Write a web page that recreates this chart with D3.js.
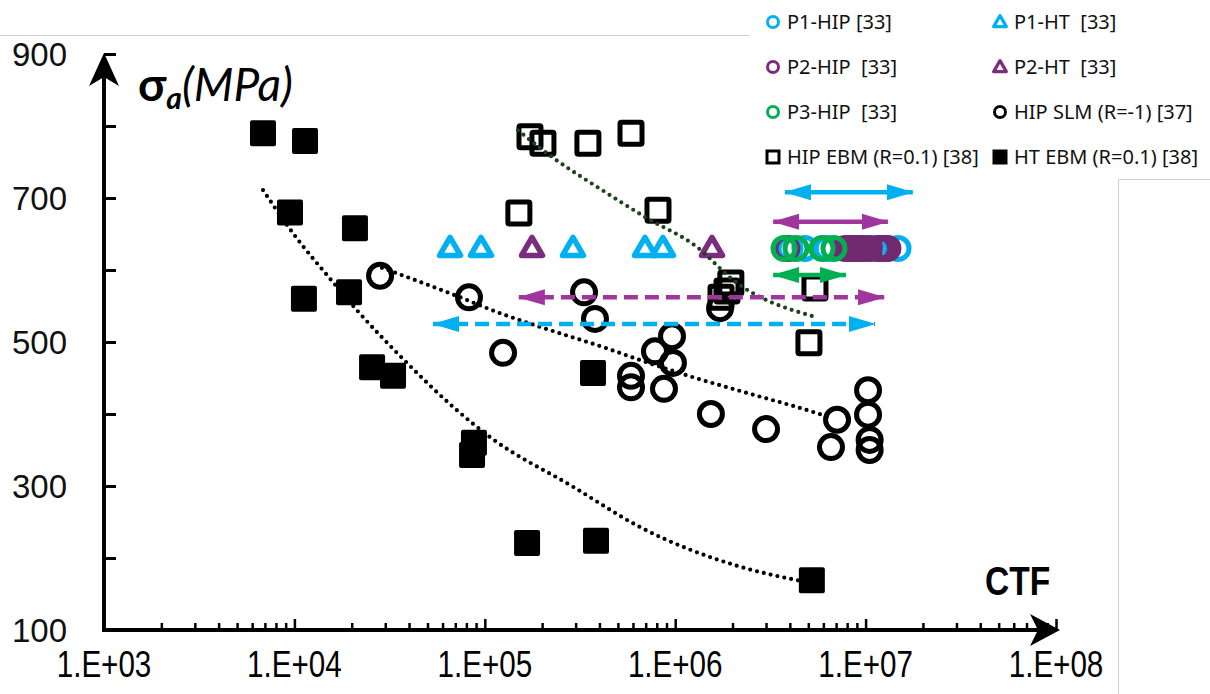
<!DOCTYPE html>
<html>
<head>
<meta charset="utf-8">
<script src="https://cdn.jsdelivr.net/npm/d3@7"></script>
<style>
body { margin: 0; background: #fff; }
svg { display: block; }
</style>
</head>
<body>
<div id="chart"></div>
<script>
// valori: CTF (cicli) e ampiezza di tensione (MPa)
var htEbmX = [6840, 11370, 9480, 20800, 11220, 19360, 25580, 32960, 87700, 85700, 370000, 166700, 383700, 5220000];
var htEbmY = [790, 779, 680, 658, 560, 569, 465, 453, 360, 343, 457, 221, 224, 169];

var hipEbmX = [172700, 202000, 348000, 586000, 151000, 812000, 1960000, 1870000, 1740000, 5420000, 5040000];
var hipEbmY = [785, 776, 776, 790, 679, 683, 582, 571, 562, 575, 499];

var hipSlmX = [28180, 82600, 332000, 379000, 124700, 962000, 783000, 973000, 586000, 586000, 873000, 1540000, 1720000, 3000000, 7080000, 6580000, 10300000, 10300000, 10500000, 10500000];
var hipSlmY = [592, 562, 569, 532, 485, 508, 487, 471, 453, 437, 435, 400, 547, 379, 392, 354, 433, 399, 364, 350];

var p1HtX = [65700, 95500, 290500, 694000, 862000];
var p2HtX = [177000, 1560000];
var p1HipX = [4010000, 4800000, 6270000, 11200000, 14800000];
var p2HipX = [3860000, 7800000, 8200000, 8490000, 8800000, 9120000, 9500000, 9810000, 10500000, 11700000, 12200000, 12700000, 13100000];
var p3HipX = [3730000, 4310000, 5910000, 6820000];
var pStress = 630;

// linee di tendenza
var trendHt = [[6840, 711], [9840, 651], [15960, 583], [21330, 544], [37670, 475], [68080, 410], [106400, 368], [290400, 299], [653100, 243], [2188000, 188], [4808000, 167]];
var trendSlm = [[28840, 603], [69660, 565], [120200, 540], [195000, 521], [427600, 492], [653100, 475], [1242000, 451], [2188000, 432], [5559000, 401], [6668000, 394]];
var trendEbm = [[149300, 794], [225400, 757], [413000, 711], [711200, 672], [1300000, 632], [2014000, 586], [5420000, 535]];

// frecce (intervalli di CTF)
var rangeNames = ["P1 solid", "P2 solid", "P3 solid", "P2 dashed", "P1 dashed"];
var rangeY = [708, 667, 593, 562, 525];
var rangeX0 = [3770000, 3270000, 3270000, 151000, 53500];
var rangeX1 = [17700000, 13100000, 7890000, 12500000, 11200000];

var xMajor = [1e3, 1e4, 1e5, 1e6, 1e7, 1e8];
var yTicks = [100, 200, 300, 400, 500, 600, 700, 800, 900];
var yLabels = [100, 300, 500, 700, 900];

var legendNames = ["P1-HIP [33]", "P1-HT  [33]", "P2-HIP  [33]", "P2-HT  [33]", "P3-HIP  [33]", "HIP SLM (R=-1) [37]", "HIP EBM (R=0.1) [38]", "HT EBM (R=0.1) [38]"];

var width = 1210, height = 694;
var blue = "#00b0f0", purpleTri = "#7b2c7d", purpleDot = "#712a70", purpleArrow = "#a0369d", green = "#00b050", darkGreen = "#1d421d";

var x = d3.scaleLog().domain([1e3, 1e8]).range([104, 1056]);
var y = d3.scaleLinear().domain([100, 900]).range([630, 54]);

var svg = d3.select("#chart").append("svg")
    .attr("width", width)
    .attr("height", height);

// bordi grigi dell'immagine
svg.append("path")
    .attr("d", "M0,35.5H750 M1118.5,179.5V694 M1118.5,179.5H1210")
    .attr("stroke", "#d0d0d0")
    .attr("fill", "none");

var defs = svg.append("defs");
function arrowMarker(id, color) {
    defs.append("marker")
        .attr("id", id)
        .attr("markerUnits", "userSpaceOnUse")
        .attr("viewBox", "0 0 27 17")
        .attr("markerWidth", 27)
        .attr("markerHeight", 17)
        .attr("refX", 26)
        .attr("refY", 8.5)
        .attr("orient", "auto-start-reverse")
        .append("path")
        .attr("d", "M0,0.5L27,8.5L0,16.5Z")
        .attr("fill", color);
}
arrowMarker("ab", blue);
arrowMarker("ap", purpleArrow);
arrowMarker("ag", green);

// assi
var axes = svg.append("g");

var minor = [];
xMajor.slice(0, -1).forEach(function(d) {
    for (var k = 2; k <= 9; k++) minor.push(d * k);
});

axes.append("g")
    .attr("transform", "translate(0,630)")
    .call(d3.axisBottom(x).tickValues(minor).tickSize(-7).tickFormat(""))
    .call(function(g) { g.select(".domain").remove(); })
    .selectAll("line").attr("stroke-width", 2.5);

axes.append("g")
    .attr("transform", "translate(0,630)")
    .call(d3.axisBottom(x).tickValues(xMajor).tickSize(-11).tickFormat(""))
    .call(function(g) { g.select(".domain").remove(); })
    .selectAll("line").attr("stroke-width", 2.5);

axes.append("g")
    .attr("transform", "translate(104,0)")
    .call(d3.axisLeft(y).tickValues(yTicks).tickSize(-12).tickFormat(""))
    .call(function(g) { g.select(".domain").remove(); })
    .selectAll("line").attr("stroke-width", 3);

axes.append("line")
    .attr("x1", 104).attr("x2", 1040)
    .attr("y1", 630).attr("y2", 630)
    .attr("stroke", "#000").attr("stroke-width", 4);
axes.append("line")
    .attr("x1", 104).attr("x2", 104)
    .attr("y1", 632).attr("y2", 70)
    .attr("stroke", "#000").attr("stroke-width", 4);
axes.append("path")
    .attr("d", "M1060,630L1030,614L1038,630L1030,646Z");
axes.append("path")
    .attr("d", "M104,53L89,86L104,77L119,86Z");

// etichette
axes.selectAll(".xl")
    .data(xMajor)
    .enter().append("text")
    .attr("class", "xl")
    .attr("transform", function(d) { return "translate(" + x(d) + ",677) scale(0.8,1)"; })
    .attr("text-anchor", "middle")
    .style("font-family", "Liberation Sans, Arial, sans-serif")
    .style("font-size", "37px")
    .text(function(d) { return "1.E+" + d3.format("02d")(Math.round(Math.log10(d))); });

axes.selectAll(".yl")
    .data(yLabels)
    .enter().append("text")
    .attr("class", "yl")
    .attr("x", 67)
    .attr("y", function(d) { return y(d); })
    .attr("dy", ".36em")
    .attr("text-anchor", "end")
    .style("font-family", "Liberation Sans, Arial, sans-serif")
    .style("font-size", "33px")
    .style("fill", "#111")
    .text(function(d) { return d; });

axes.append("text")
    .attr("transform", "translate(985,595) scale(0.84,1)")
    .style("font-family", "Liberation Sans, Arial, sans-serif")
    .style("font-weight", "bold")
    .style("font-size", "40px")
    .text("CTF");

var title = axes.append("text")
    .attr("x", 138)
    .attr("y", 101)
    .style("font-family", "Lato, 'Open Sans', sans-serif")
    .style("font-size", "46px");
title.append("tspan").style("font-weight", "bold").text("σ");
title.append("tspan").attr("dy", 8).style("font-weight", "bold").style("font-style", "italic").style("font-size", "30px").text("a");
title.append("tspan").attr("dy", -8).style("font-style", "italic").text("(MPa)");

// serie
var plot = svg.append("g");

function circles(xs, ys, color, r) {
    plot.append("g").selectAll("circle")
        .data(xs)
        .enter().append("circle")
        .attr("cx", function(d) { return x(d); })
        .attr("cy", function(d, i) { return y(ys ? ys[i] : pStress); })
        .attr("r", r)
        .attr("fill", "none")
        .attr("stroke", color)
        .attr("stroke-width", 5);
}

function triangles(xs, color) {
    plot.append("g").selectAll("path")
        .data(xs)
        .enter().append("path")
        .attr("transform", function(d) { return "translate(" + x(d) + "," + (y(pStress) + 1) + ")"; })
        .attr("d", d3.symbol().type(d3.symbolTriangle).size(190))
        .attr("fill", "none")
        .attr("stroke", color)
        .attr("stroke-width", 5.5)
        .attr("stroke-linejoin", "round");
}

circles(p1HipX, null, blue, 11);
triangles(p1HtX, blue);
circles(p2HipX, null, purpleDot, 11);
triangles(p2HtX, purpleTri);
circles(p3HipX, null, green, 11);
circles(hipSlmX, hipSlmY, "#000", 11.5);

plot.append("g").selectAll("rect")
    .data(hipEbmX)
    .enter().append("rect")
    .attr("x", function(d) { return x(d) - 11; })
    .attr("y", function(d, i) { return y(hipEbmY[i]) - 11; })
    .attr("width", 22).attr("height", 22)
    .attr("rx", 1.5)
    .attr("fill", "none")
    .attr("stroke", "#000")
    .attr("stroke-width", 5);

plot.append("g").selectAll("rect")
    .data(htEbmX)
    .enter().append("rect")
    .attr("x", function(d) { return x(d) - 13; })
    .attr("y", function(d, i) { return y(htEbmY[i]) - 13; })
    .attr("width", 26).attr("height", 26)
    .attr("rx", 2)
    .attr("fill", "#000");

// tendenze puntinate
var line = d3.line()
    .x(function(d) { return x(d[0]); })
    .y(function(d) { return y(d[1]); })
    .curve(d3.curveMonotoneX);

[[trendHt, "#000"], [trendSlm, "#000"], [trendEbm, darkGreen]].forEach(function(t) {
    plot.append("path")
        .attr("d", line(t[0]))
        .attr("fill", "none")
        .attr("stroke", t[1])
        .attr("stroke-width", 4.2)
        .attr("stroke-linecap", "round")
        .attr("stroke-dasharray", "0 7");
});

// frecce
var rangeColor = { "P1": [blue, "ab"], "P2": [purpleArrow, "ap"], "P3": [green, "ag"] };
rangeNames.forEach(function(n, i) {
    var c = rangeColor[n.split(" ")[0]];
    plot.append("line")
        .attr("x1", x(rangeX0[i])).attr("x2", x(rangeX1[i]))
        .attr("y1", y(rangeY[i])).attr("y2", y(rangeY[i]))
        .attr("stroke", c[0])
        .attr("stroke-width", 4.5)
        .attr("stroke-dasharray", n.indexOf("dashed") > -1 ? "14 7" : null)
        .attr("marker-start", "url(#" + c[1] + ")")
        .attr("marker-end", "url(#" + c[1] + ")");
});

// legenda
var legend = svg.append("g");
legend.append("rect")
    .attr("x", 750).attr("y", 0)
    .attr("width", 460).attr("height", 179)
    .attr("fill", "#fff");

var legendKinds = ["circle", "tri", "circle", "tri", "circle", "circle", "square", "filled"];
var legendColors = [blue, blue, purpleTri, purpleTri, green, "#000", "#000", "#000"];

var item = legend.selectAll(".item")
    .data(legendNames)
    .enter().append("g")
    .attr("class", "item")
    .attr("transform", function(d, i) {
        return "translate(" + (i % 2 ? 1000 : 773) + "," + (22 + Math.floor(i / 2) * 45) + ")";
    });

item.each(function(d, i) {
    var g = d3.select(this), k = legendKinds[i], c = legendColors[i];
    if (k == "circle") {
        g.append("circle").attr("r", 5.5).attr("fill", "none").attr("stroke", c).attr("stroke-width", 3);
    } else if (k == "tri") {
        g.append("path").attr("d", d3.symbol().type(d3.symbolTriangle).size(70))
            .attr("transform", "translate(0,1)")
            .attr("fill", "none").attr("stroke", c).attr("stroke-width", 3.2).attr("stroke-linejoin", "round");
    } else if (k == "square") {
        g.append("rect").attr("x", -6).attr("y", -6).attr("width", 12).attr("height", 12)
            .attr("fill", "none").attr("stroke", c).attr("stroke-width", 3);
    } else {
        g.append("rect").attr("x", -7.5).attr("y", -7.5).attr("width", 15).attr("height", 15).attr("fill", c);
    }
});

item.append("text")
    .attr("x", 14)
    .attr("dy", ".36em")
    .style("font-family", "'Noto Sans', sans-serif")
    .style("font-size", "20px")
    .style("fill", "#111")
    .style("white-space", "pre")
    .text(function(d) { return d; });
</script>
</body>
</html>
